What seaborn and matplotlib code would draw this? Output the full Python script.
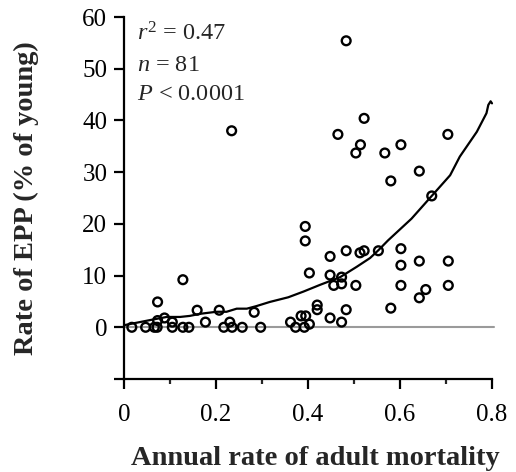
import matplotlib
matplotlib.use("Agg")
import matplotlib.pyplot as plt
import seaborn as sns
import numpy as np
import pandas as pd

# ---- data ----
mortality = [0.017, 0.047, 0.066, 0.072, 0.073, 0.073, 0.088, 0.105, 0.105, 0.128,
             0.128, 0.141, 0.159, 0.177, 0.207, 0.217, 0.230, 0.235, 0.234, 0.257,
             0.283, 0.297, 0.362, 0.373, 0.385, 0.395, 0.392, 0.403, 0.394, 0.394,
             0.403, 0.420, 0.420, 0.448, 0.483, 0.513, 0.522, 0.553, 0.602, 0.602,
             0.642, 0.705, 0.448, 0.473, 0.456, 0.473, 0.504, 0.602, 0.705, 0.656,
             0.642, 0.580, 0.483, 0.448, 0.473, 0.465, 0.514, 0.504, 0.567, 0.602,
             0.704, 0.642, 0.580, 0.669, 0.522, 0.483]
epp = [0.0, 0.0, 0.0, 0.0, 1.3, 4.9, 1.8, 1.0, 0.0, 9.2,
       0.0, 0.0, 3.3, 1.0, 3.3, 0.0, 1.0, 0.0, 38.0, 0.0,
       2.9, 0.0, 1.0, 0.0, 2.2, 2.2, 0.0, 0.6, 19.5, 16.7,
       10.5, 4.3, 3.4, 13.7, 14.8, 14.4, 14.8, 14.8, 15.2, 12.0,
       12.8, 12.8, 10.1, 9.7, 8.1, 8.4, 8.1, 8.1, 8.1, 7.3,
       5.7, 3.7, 3.4, 1.8, 1.0, 37.3, 35.3, 33.7, 33.7, 35.3,
       37.3, 30.2, 28.3, 25.4, 40.4, 55.4]

curve_x = [0.0, 0.057, 0.093, 0.122, 0.143, 0.165, 0.201, 0.223, 0.245, 0.267,
           0.288, 0.317, 0.357, 0.390, 0.426, 0.470, 0.506, 0.535, 0.553, 0.574,
           0.625, 0.669, 0.709, 0.730, 0.767, 0.788, 0.792, 0.797, 0.800]
curve_y = [0.4, 1.4, 2.0, 2.0, 2.2, 2.6, 3.0, 3.0, 3.6, 3.6,
           4.1, 4.9, 5.8, 6.9, 8.2, 9.7, 11.7, 13.4, 14.9, 16.8,
           21.0, 25.4, 29.4, 33.0, 37.8, 41.4, 43.0, 43.7, 43.3]

zero_x = [0.0, 0.805]
zero_y = [0.0, 0.0]

x_ticks = [0, 0.2, 0.4, 0.6, 0.8]
x_ticklabels = ["0", "0.2", "0.4", "0.6", "0.8"]
x_minor = [0.1, 0.3, 0.5, 0.7]
y_ticks = [-10, 0, 10, 20, 30, 40, 50, 60]
y_ticklabels = ["", "0", "10", "20", "30", "40", "50", "60"]

pts = pd.DataFrame({"mortality": mortality, "epp": epp})
curve = pd.DataFrame({"x": curve_x, "y": curve_y})
zero = pd.DataFrame({"x": zero_x, "y": zero_y})

sns.set_theme(style="ticks")
plt.rcParams["font.family"] = ["Liberation Serif", "DejaVu Serif"]
plt.rcParams["mathtext.fontset"] = "custom"
plt.rcParams["mathtext.rm"] = "Liberation Serif"
plt.rcParams["mathtext.it"] = "Liberation Serif:italic"

fig = plt.figure(figsize=(5.16, 4.72), dpi=100)
ax = fig.add_axes([124/516, 1 - 379/472, 368/516, 362/472])

sns.lineplot(data=zero, x="x", y="y", ax=ax, color="#9a9a9a", linewidth=1.5,
             clip_on=False, zorder=1)
sns.lineplot(data=curve, x="x", y="y", ax=ax, color="black", linewidth=1.6,
             clip_on=False, zorder=2, sort=False)
sns.scatterplot(data=pts, x="mortality", y="epp", ax=ax, marker="o", s=40,
                facecolor="none", edgecolor="black", linewidth=1.7, zorder=3,
                clip_on=False)

ax.set_xlim(0, 0.8)
ax.set_ylim(-10, 60)
ax.set_xticks(x_ticks)
ax.set_xticklabels(x_ticklabels)
ax.set_xticks(x_minor, minor=True)
ax.set_yticks(y_ticks)
ax.set_yticklabels(y_ticklabels)

for s in ["top", "right"]:
    ax.spines[s].set_visible(False)
for s in ["left", "bottom"]:
    ax.spines[s].set_linewidth(1.6)
    ax.spines[s].set_color("black")

ax.tick_params(axis="both", which="major", direction="out", length=7, width=1.6,
               labelsize=18, colors="black", pad=5)
ax.tick_params(axis="x", which="minor", direction="out", length=3.5, width=1.6)
ax.tick_params(axis="x", which="major", pad=11)

ax.set_xlabel("Annual rate of adult mortality", fontsize=20.5, fontweight="bold")
ax.set_ylabel("Rate of EPP (% of young)", fontsize=20.5, fontweight="bold")
ax.xaxis.set_label_coords(0.52, -0.186)
ax.yaxis.set_label_coords(-0.232, 0.5)

ax.text(0.035, 0.952, r"$r^2$ = 0.47", transform=ax.transAxes, fontsize=17.5,
        va="center", ha="left")
ax.text(0.035, 0.866, r"$n$ = 81", transform=ax.transAxes, fontsize=17.5,
        va="center", ha="left")
ax.text(0.035, 0.786, r"$P$ < 0.0001", transform=ax.transAxes, fontsize=17.5,
        va="center", ha="left")

ax.legend_ = None
fig.savefig("out.png", dpi=100)
